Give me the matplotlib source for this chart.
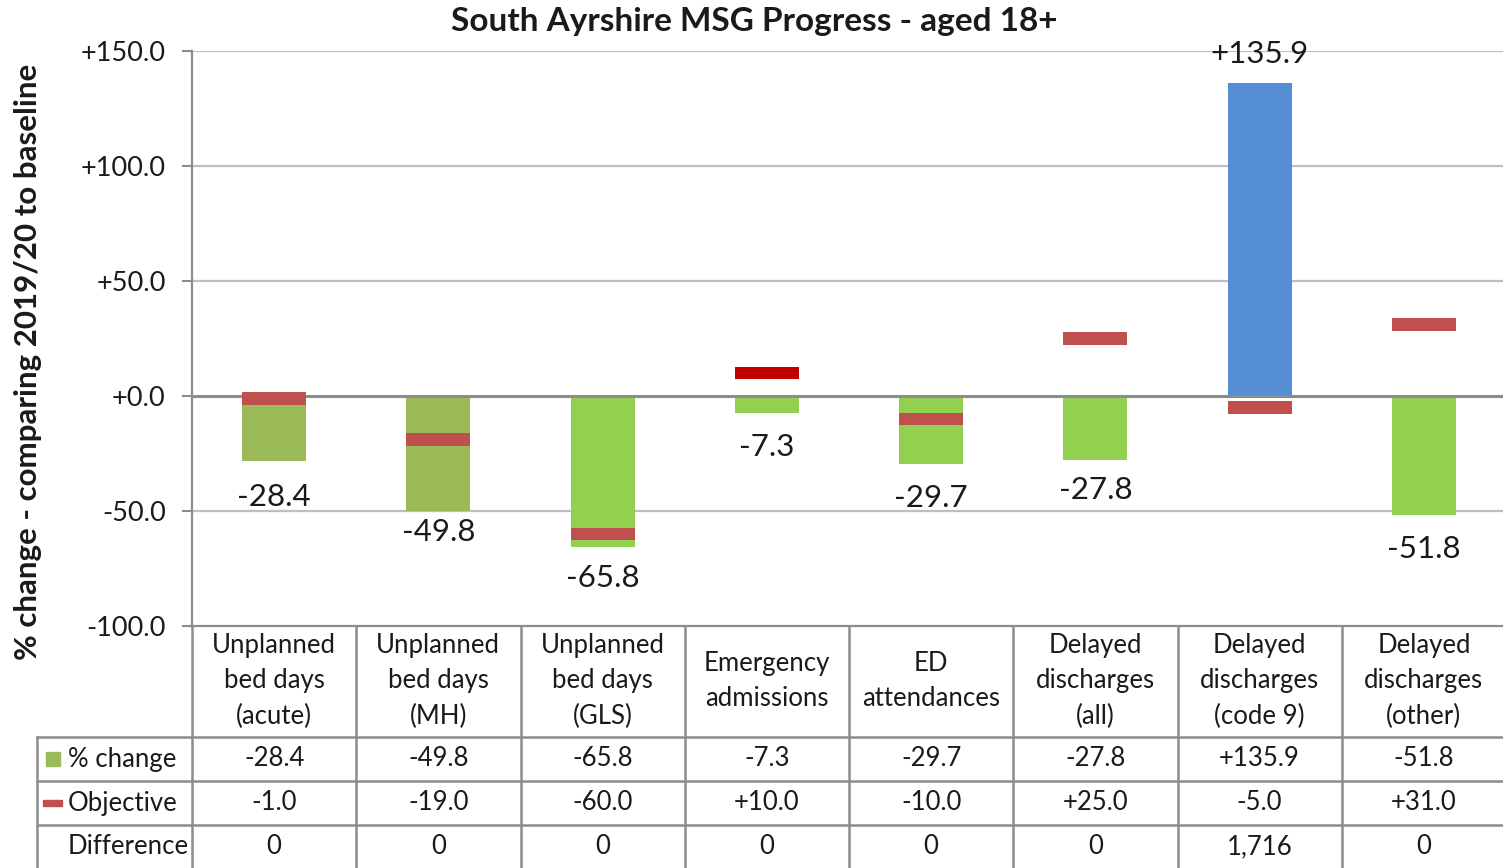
import matplotlib
matplotlib.use("Agg")
import matplotlib.pyplot as plt
from matplotlib.transforms import blended_transform_factory
from matplotlib.lines import Line2D
from matplotlib.patches import Rectangle

plt.rcParams["font.family"] = ["Lato", "DejaVu Sans"]

# ---------------- data ----------------
categories = [
    "Unplanned\nbed days\n(acute)",
    "Unplanned\nbed days\n(MH)",
    "Unplanned\nbed days\n(GLS)",
    "Emergency\nadmissions",
    "ED\nattendances",
    "Delayed\ndischarges\n(all)",
    "Delayed\ndischarges\n(code 9)",
    "Delayed\ndischarges\n(other)",
]
pct_change = [-28.4, -49.8, -65.8, -7.3, -29.7, -27.8, 135.9, -51.8]
objective = [-1.0, -19.0, -60.0, 10.0, -10.0, 25.0, -5.0, 31.0]
difference = ["0", "0", "0", "0", "0", "0", "1,716", "0"]
yticks = [-100, -50, 0, 50, 100, 150]

# ---------------- styles ----------------
bar_colors = ["#9BBB59", "#9BBB59", "#92D050", "#92D050", "#92D050",
              "#92D050", "#558ED5", "#92D050"]
obj_colors = ["#C0504D", "#C0504D", "#C0504D", "#C00000", "#C0504D",
              "#C0504D", "#C0504D", "#C0504D"]
label_offsets = [-36, -21, -31, -34, -34, -30, 29, -34]  # pixels
grid_col = "#BFBFBF"
line_col = "#8C8C8C"
txt_col = "#1a1a1a"

W, H = 1503, 868
fig = plt.figure(figsize=(W / 100, H / 100), dpi=100)

def fx(px):
    return px / W

def fy(py):
    return 1 - py / H

left_px, right_px, top_px, bot_px = 192, 1506, 51, 626
ax = fig.add_axes([fx(left_px), fy(bot_px), fx(right_px - left_px), (bot_px - top_px) / H])

x = list(range(len(categories)))
bw = 0.39
ax.bar(x, pct_change, width=bw, color=bar_colors, zorder=2)
mh = 5.6
ax.bar(x, [mh] * len(objective), bottom=[o - mh / 2 for o in objective],
       width=bw, color=obj_colors, zorder=4)

def fmt(v):
    return f"{v:+.1f}" if v > 0 else f"{v:.1f}"

for xi, v, off in zip(x, pct_change, label_offsets):
    ax.annotate(fmt(v), (xi, v), xytext=(0, off), textcoords="offset pixels",
                ha="center", va="center", fontsize=22.5, color=txt_col, zorder=5)

ax.set_xlim(-0.5, 7.5)
ax.set_ylim(-100, 150)
ax.set_yticks(yticks)
ax.set_yticklabels([f"{t:+.1f}" if t >= 0 else f"{t:.1f}" for t in yticks],
                   fontsize=19.5, color=txt_col)
ax.set_xticks([])
ax.tick_params(axis="y", length=7, width=1.5, color=line_col, pad=12)
for t in yticks:
    if t == 0:
        ax.axhline(t, color="#8C8C8C", lw=2.2, zorder=3)
    elif t != -100:
        ax.axhline(t, color=grid_col, lw=1.6, zorder=1)
for s in ["top", "right"]:
    ax.spines[s].set_visible(False)
ax.spines["left"].set_color(line_col)
ax.spines["left"].set_linewidth(1.6)
ax.spines["bottom"].set_color(line_col)
ax.spines["bottom"].set_linewidth(1.6)

fig.text(fx(28), fy(362), "% change - comparing 2019/20 to baseline", rotation=90,
         ha="center", va="center", fontsize=22.5, fontweight="bold", color=txt_col)

fig.text(fx(754), fy(22), "South Ayrshire MSG Progress - aged 18+", ha="center",
         va="center", fontsize=24, fontweight="bold", color=txt_col)

# ---------------- data table ----------------
tr = blended_transform_factory(ax.transData, fig.transFigure)
row_y = [626, 737, 781, 825, 880]
x_tab_left = -0.5 - (left_px - 37) / ((right_px - left_px) / 8)

def hline(py, x0, x1):
    fig.add_artist(Line2D([x0, x1], [fy(py), fy(py)], transform=tr,
                          color=line_col, lw=1.8, clip_on=False))

def vline(xd, py0, py1):
    fig.add_artist(Line2D([xd, xd], [fy(py0), fy(py1)], transform=tr,
                          color=line_col, lw=1.8, clip_on=False))

for py in row_y[1:4]:
    hline(py, x_tab_left, 7.6)
for i in range(len(categories) + 1):
    vline(i - 0.5, 626, 880)
vline(x_tab_left, 737, 880)

fs_tab = 18.5
for xi, c in zip(x, categories):
    fig.text(xi, fy(681), c, transform=tr, ha="center", va="center",
             fontsize=fs_tab, color=txt_col, linespacing=1.5)
rows = [
    [fmt(v) for v in pct_change],
    [fmt(v) for v in objective],
    difference,
]
row_centers = [759, 803, 847]
for vals, yc in zip(rows, row_centers):
    for xi, s in zip(x, vals):
        fig.text(xi, fy(yc), s, transform=tr, ha="center", va="center",
                 fontsize=fs_tab, color=txt_col)

row_names = ["% change", "Objective", "Difference"]
for name, yc in zip(row_names, row_centers):
    fig.text(fx(68), fy(yc), name, ha="left", va="center", fontsize=fs_tab,
             color=txt_col)
fig.add_artist(Rectangle((fx(46), fy(766)), fx(14), 14 / H,
                         transform=fig.transFigure, color="#9BBB59"))
fig.add_artist(Rectangle((fx(43), fy(806)), fx(19), 6 / H,
                         transform=fig.transFigure, color="#C0504D"))

fig.savefig("out.png", dpi=100)
